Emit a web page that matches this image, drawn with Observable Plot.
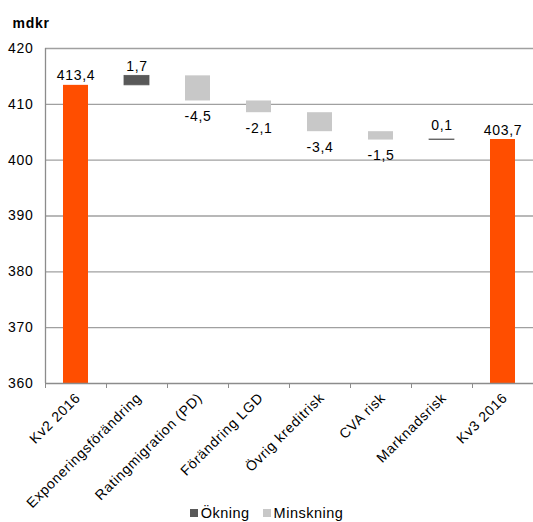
<!DOCTYPE html>
<html><head><meta charset="utf-8">
<script src="https://cdn.jsdelivr.net/npm/d3@7"></script>
<script src="https://cdn.jsdelivr.net/npm/@observablehq/plot@0.6"></script>
<style>
body{margin:0;background:#fff;font-family:"Liberation Sans",Arial,sans-serif;}
#chart svg text{letter-spacing:0.7px}
#legend{display:flex;justify-content:center;gap:13px;font-size:14.5px;line-height:21px;color:#000;letter-spacing:0.5px}
.sw{display:inline-block;width:8px;height:8px;margin-right:3px;vertical-align:1px}
</style></head><body>
<div id="chart"></div>
<div id="legend"></div>
<script>
const categories = ["Kv2 2016","Exponeringsförändring","Ratingmigration (PD)","Förändring LGD","Övrig kreditrisk","CVA risk","Marknadsrisk","Kv3 2016"];
const values = [413.4, 1.7, -4.5, -2.1, -3.4, -1.5, 0.1, 403.7];
const kinds = ["total","change","change","change","change","change","change","total"];
const yTicks = [360, 370, 380, 390, 400, 410, 420];
const legendLabels = ["Ökning", "Minskning"];
const colors = {total: "#ff4e00", up: "#595959", down: "#c8c8c8"};
const unitLabel = "mdkr";

let run = 0;
const rows = categories.map((c, i) => {
  const v = values[i];
  let y1, y2, type;
  if (kinds[i] === "total") { y1 = 360; y2 = v; run = v; type = "total"; }
  else { y1 = run; y2 = run + v; run = y2; type = v >= 0 ? "up" : "down"; }
  return {c, i, v, y1, y2, type, top: Math.max(y1, y2), bot: Math.min(y1, y2),
          label: v.toFixed(1).replace(".", ",")};
});
const above = rows.filter(d => d.type !== "down" && Math.abs(d.v) >= 0.5);
const aboveThin = rows.filter(d => d.type !== "down" && Math.abs(d.v) < 0.5);
const below = rows.filter(d => d.type === "down");
const half = 0.205;

const chart = Plot.plot({
  width: 533, height: 503,
  marginLeft: 45, marginRight: 0, marginTop: 48, marginBottom: 120,
  style: {fontFamily: "Liberation Sans, Arial, sans-serif", color: "#000", background: "#fff", overflow: "visible"},
  x: {domain: [0, categories.length], label: null},
  y: {domain: [360, 420], label: null},
  marks: [
    Plot.gridY(yTicks.filter(t => t > 360), {stroke: "#a0a0a0", strokeOpacity: 1, strokeWidth: 1.3}),
    Plot.rect(rows, {x1: d => d.i + 0.5 - half, x2: d => d.i + 0.5 + half, y1: "y1", y2: "y2",
      fill: d => colors[d.type], stroke: d => d.type === "up" ? colors.up : "none", strokeWidth: 0.8}),
    Plot.ruleY([360], {stroke: "#8c8c8c", strokeWidth: 1.3}),
    Plot.ruleX([0], {y1: 360, y2: 420, stroke: "#8c8c8c", strokeWidth: 1.3}),
    Plot.axisX({ticks: d3.range(0, categories.length + 1), tickFormat: () => "", tickSize: 5, stroke: "#8c8c8c", label: null}),
    Plot.axisY({ticks: yTicks, tickSize: 0, tickPadding: 12, fontSize: 14, label: null}),
    Plot.text(above, {x: d => d.i + 0.5, y: "top", text: "label", lineAnchor: "bottom", dy: -5, fontSize: 14}),
    Plot.text(aboveThin, {x: d => d.i + 0.5, y: "top", text: "label", lineAnchor: "bottom", dy: -10, fontSize: 14}),
    Plot.text(below, {x: d => d.i + 0.5, y: "bot", text: "label", lineAnchor: "top", dy: 10, fontSize: 14}),
    Plot.text(rows, {x: d => d.i + 0.5, y: 360, text: "c", rotate: -45, textAnchor: "end", lineAnchor: "middle", dx: 2, dy: 12, fontSize: 14}),
    Plot.text([unitLabel], {frameAnchor: "top-left", dx: -33, dy: -21, textAnchor: "start", lineAnchor: "bottom", fontWeight: "bold", fontSize: 14})
  ]
});
document.getElementById("chart").appendChild(chart);

const leg = document.getElementById("legend");
[["up", legendLabels[0]], ["down", legendLabels[1]]].forEach(([k, t]) => {
  const s = document.createElement("span");
  s.innerHTML = `<span class="sw" style="background:${colors[k]}"></span>${t}`;
  leg.appendChild(s);
});
</script>
</body></html>
